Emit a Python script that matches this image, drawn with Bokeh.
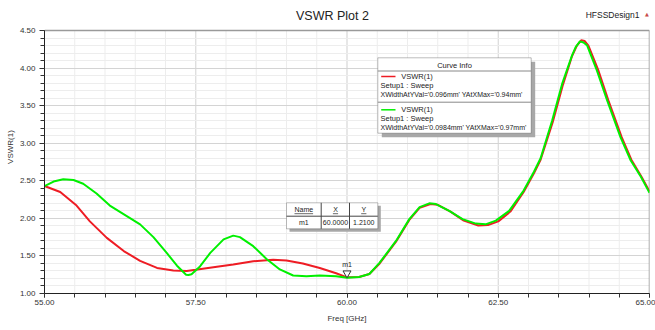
import numpy as np
from bokeh.plotting import figure
from bokeh.models import (FixedTicker, PrintfTickFormatter, Label, BoxAnnotation, Range1d, Title)
from bokeh.embed import file_html
from bokeh.resources import INLINE

# ---------------- data ----------------
red_freq = [55.00, 55.26, 55.53, 55.75, 56.03, 56.31, 56.58, 56.86, 57.13, 57.35,
            57.50, 57.85, 58.12, 58.45, 58.78, 59.00, 59.27, 59.55, 59.82, 60.00,
            60.20, 60.37, 60.54, 60.81, 61.03, 61.20, 61.38, 61.50, 61.71, 61.93,
            62.17, 62.33, 62.50, 62.70, 62.92, 63.09, 63.20, 63.40, 63.57, 63.72,
            63.80, 63.87, 63.93, 63.99, 64.15, 64.32, 64.54, 64.70, 64.87, 65.00]
red_vswr = [2.43, 2.35, 2.17, 1.96, 1.74, 1.565, 1.435, 1.34, 1.305, 1.30,
            1.315, 1.355, 1.386, 1.43, 1.45, 1.44, 1.40, 1.34, 1.27, 1.215,
            1.22, 1.26, 1.40, 1.69, 1.98, 2.14, 2.19, 2.18, 2.09, 1.97,
            1.905, 1.91, 1.96, 2.09, 2.35, 2.60, 2.78, 3.28, 3.78, 4.16,
            4.30, 4.37, 4.36, 4.30, 3.98, 3.57, 3.08, 2.78, 2.55, 2.36]

green_freq = [55.00, 55.15, 55.31, 55.48, 55.64, 55.86, 56.08, 56.36, 56.58, 56.80,
              57.02, 57.19, 57.34, 57.38, 57.43, 57.57, 57.74, 57.96, 58.12, 58.23,
              58.45, 58.67, 58.89, 59.11, 59.33, 59.55, 59.82, 60.00, 60.20, 60.37,
              60.54, 60.81, 61.03, 61.20, 61.36, 61.47, 61.69, 61.91, 62.13, 62.29,
              62.46, 62.68, 62.92, 63.09, 63.20, 63.39, 63.56, 63.72, 63.78, 63.85,
              63.91, 63.97, 64.13, 64.30, 64.52, 64.69, 64.86, 65.00]
green_vswr = [2.43, 2.49, 2.52, 2.51, 2.46, 2.33, 2.17, 2.03, 1.92, 1.75,
              1.54, 1.37, 1.25, 1.245, 1.255, 1.36, 1.54, 1.72, 1.77, 1.75,
              1.63, 1.46, 1.32, 1.24, 1.23, 1.24, 1.23, 1.21, 1.22, 1.26,
              1.41, 1.70, 1.99, 2.15, 2.20, 2.19, 2.10, 1.99, 1.93, 1.92,
              1.97, 2.10, 2.37, 2.62, 2.80, 3.30, 3.80, 4.17, 4.28, 4.355,
              4.34, 4.30, 3.97, 3.57, 3.08, 2.77, 2.55, 2.34]

marker_name = ["m1"]
marker_x = [60.0]
marker_y = [1.21]

x_major_ticks = [55.0, 57.5, 60.0, 62.5, 65.0]
x_minor_ticks = [55.0 + 0.5 * i for i in range(21)]
y_major_ticks = [1.0, 1.5, 2.0, 2.5, 3.0, 3.5, 4.0, 4.5]
y_minor_ticks = [round(1.0 + 0.1 * i, 2) for i in range(36)]

legend_entries = [
    ("VSWR(1)", "Setup1 : Sweep", "XWidthAtYVal='0.096mm' YAtXMax='0.94mm'", "#ee1c24"),
    ("VSWR(1)", "Setup1 : Sweep", "XWidthAtYVal='0.0984mm' YAtXMax='0.97mm'", "#00f000"),
]

FONT = "Liberation Sans"
X0, X1, Y0, Y1 = 55.0, 65.0, 1.0, 4.5
W, H = 655, 330
FL, FR, FT, FB = 44, 649, 30, 293          # plot-area edges in canvas pixels
Y_TOP = Y1 + FT * (Y1 - Y0) / (FB - FT)    # frame extends up to the canvas top (title area)

def fx(px):
    return X0 + (px - FL) / (FR - FL) * (X1 - X0)

def fy(py):
    return Y0 + (FB - py) / (FB - FT) * (Y1 - Y0)

p = figure(width=W, height=H, output_backend="svg", toolbar_location=None,
           x_range=Range1d(X0, X1), y_range=Range1d(Y0, Y_TOP),
           min_border_left=FL, min_border_right=W - FR, min_border_top=0,
           min_border_bottom=H - FB)
p.background_fill_color = "white"
p.border_fill_color = "white"
p.outline_line_color = None

# axes
p.xaxis.ticker = FixedTicker(ticks=x_major_ticks, minor_ticks=x_minor_ticks)
p.yaxis.ticker = FixedTicker(ticks=y_major_ticks, minor_ticks=y_minor_ticks)
p.yaxis.bounds = (Y0, Y1)
p.xaxis.formatter = PrintfTickFormatter(format="%.2f")
p.yaxis.formatter = PrintfTickFormatter(format="%.2f")
for ax in (p.xaxis, p.yaxis):
    ax.axis_line_color = "#222222"
    ax.major_tick_line_color = "#333333"
    ax.minor_tick_line_color = "#333333"
    ax.major_tick_in = 0
    ax.minor_tick_in = 0
    ax.major_label_text_font = FONT
    ax.major_label_text_font_size = "8px"
    ax.major_label_text_color = "#333333"
    ax.axis_label_text_font = FONT
    ax.axis_label_text_font_size = "8px"
    ax.axis_label_text_font_style = "normal"
    ax.axis_label_text_color = "#333333"
p.xaxis.major_tick_out = 4
p.xaxis.minor_tick_out = 4
p.yaxis.major_tick_out = 5
p.yaxis.minor_tick_out = 4
p.xaxis.major_label_standoff = 2
p.yaxis.major_label_standoff = 4
p.xaxis.axis_label = "Freq [GHz]"
p.xaxis.axis_label_standoff = 6

# y-axis title, placed as a left-side title shifted down like the reference
ytitle = Title(text="VSWR(1)", align="center", offset=-31, standoff=4,
               text_font=FONT, text_font_size="8px", text_font_style="normal",
               text_color="#333333")
p.add_layout(ytitle, "left")

# grids: horizontal via the library grid, vertical as segments limited to the plot area
p.ygrid.ticker = p.yaxis.ticker
p.ygrid.grid_line_color = "#d4d4d4"
p.ygrid.minor_grid_line_color = "#ededed"
p.ygrid.level = "underlay"
p.xgrid.grid_line_color = None
p.segment(x_minor_ticks, [Y0] * len(x_minor_ticks), x_minor_ticks, [Y1] * len(x_minor_ticks),
          line_color="#ededed", line_width=1, level="underlay")
p.segment(x_major_ticks[1:-1], [Y0] * 3, x_major_ticks[1:-1], [Y1] * 3,
          line_color="#d8d8d8", line_width=1, level="underlay")
# plot-area border (top and right)
p.segment([X0, X1], [Y1, Y0], [X1, X1], [Y1, Y1], line_color="#9a9a9a", line_width=1.5)

# curves
p.line(red_freq, red_vswr, line_color="#ee1c24", line_width=2)
p.line(green_freq, green_vswr, line_color="#00f000", line_width=2)

# title & design name (inside the extended frame, above the plot area)
p.add_layout(Label(x=fx(332), y=fy(15), text="VSWR Plot 2", text_font=FONT,
                   text_font_size="12.5px", text_align="center", text_baseline="middle",
                   text_color="#222222"))
p.add_layout(Label(x=fx(639), y=fy(14), text="HFSSDesign1", text_font=FONT,
                   text_font_size="8.5px", text_align="right", text_baseline="middle",
                   text_color="#222222"))
p.add_layout(Label(x=fx(646.5), y=fy(13.5), text="\u25b2", text_font="DejaVu Sans",
                   text_font_size="5px", text_align="center", text_baseline="middle",
                   text_color="#c84a4a"))

# ---------- Curve Info box ----------
p.add_layout(BoxAnnotation(left=fx(381.3), right=fx(534.7), top=fy(61.3), bottom=fy(136.7),
                           fill_color="#a8a8a8", fill_alpha=1, line_color=None))
p.add_layout(BoxAnnotation(left=fx(377.3), right=fx(530.7), top=fy(57.3), bottom=fy(132.7),
                           fill_color="white", fill_alpha=1, line_color="#222222",
                           line_width=1))
p.add_layout(Label(x=fx(454), y=fy(64.5), text="Curve Info", text_font=FONT,
                   text_font_size="7.5px", text_align="center", text_baseline="middle",
                   text_color="#222222"))
seg_y = [fy(70.5), fy(101.7)]
p.segment([fx(377.3)] * 2, seg_y, [fx(530.7)] * 2, seg_y, line_color="#888888",
          line_width=1, level="overlay")
row_tops = [76.0, 109.3]
for (name, setup, extra, col), ty in zip(legend_entries, row_tops):
    p.segment([fx(380.7)], [fy(ty)], [fx(395.0)], [fy(ty)], line_color=col, line_width=1.5,
              level="overlay")
    p.add_layout(Label(x=fx(400.7), y=fy(ty), text=name, text_font=FONT,
                       text_font_size="7.5px", text_baseline="middle", text_color="#222222"))
    p.add_layout(Label(x=fx(380.0), y=fy(ty + 8.5), text=setup, text_font=FONT,
                       text_font_size="7.5px", text_baseline="middle", text_color="#222222"))
    p.add_layout(Label(x=fx(380.0), y=fy(ty + 17.5), text=extra, text_font=FONT,
                       text_font_size="7px", text_baseline="middle", text_color="#222222"))

# ---------- marker table ----------
p.add_layout(BoxAnnotation(left=fx(289), right=fx(380.3), top=fy(205.3), bottom=fy(231.3),
                           fill_color="#a8a8a8", fill_alpha=1, line_color=None))
p.add_layout(BoxAnnotation(left=fx(286), right=fx(377.3), top=fy(202.3), bottom=fy(228.3),
                           fill_color="white", fill_alpha=1, line_color="#222222",
                           line_width=1))
p.segment([fx(286), fx(320.7), fx(349)], [fy(215.7), fy(202.3), fy(202.3)],
          [fx(377.3), fx(320.7), fx(349)], [fy(215.7), fy(228.3), fy(228.3)],
          line_color="#444444", line_width=1, level="overlay")
hdr = [("Name", 303.3, 9.3), ("X", 335.0, 2.6), ("Y", 363.3, 2.6)]
for t, cx, hw in hdr:
    p.add_layout(Label(x=fx(cx), y=fy(209), text=t, text_font=FONT, text_font_size="7px",
                       text_align="center", text_baseline="middle", text_color="#222222"))
    p.segment([fx(cx - hw)], [fy(213.2)], [fx(cx + hw)], [fy(213.2)],
              line_color="#444444", line_width=0.8, level="overlay")
row = [marker_name[0], "%.4f" % marker_x[0], "%.4f" % marker_y[0]]
for t, cx in zip(row, [303.3, 335.0, 363.3]):
    p.add_layout(Label(x=fx(cx), y=fy(222.3), text=t, text_font=FONT, text_font_size="7px",
                       text_align="center", text_baseline="middle", text_color="#222222"))

# marker on the curve
dy_px = (Y1 - Y0) / (FB - FT)
p.scatter([marker_x[0]], [marker_y[0] + 4.5 * dy_px], marker="inverted_triangle", size=8,
          fill_color="white", line_color="#333333", line_width=1, level="overlay")
p.add_layout(Label(x=marker_x[0], y=marker_y[0] + 13 * dy_px, text=marker_name[0],
                   text_font=FONT, text_font_size="7px", text_align="center",
                   text_baseline="middle", text_color="#222222"))

open("out.html", "w").write(file_html(p, INLINE))
